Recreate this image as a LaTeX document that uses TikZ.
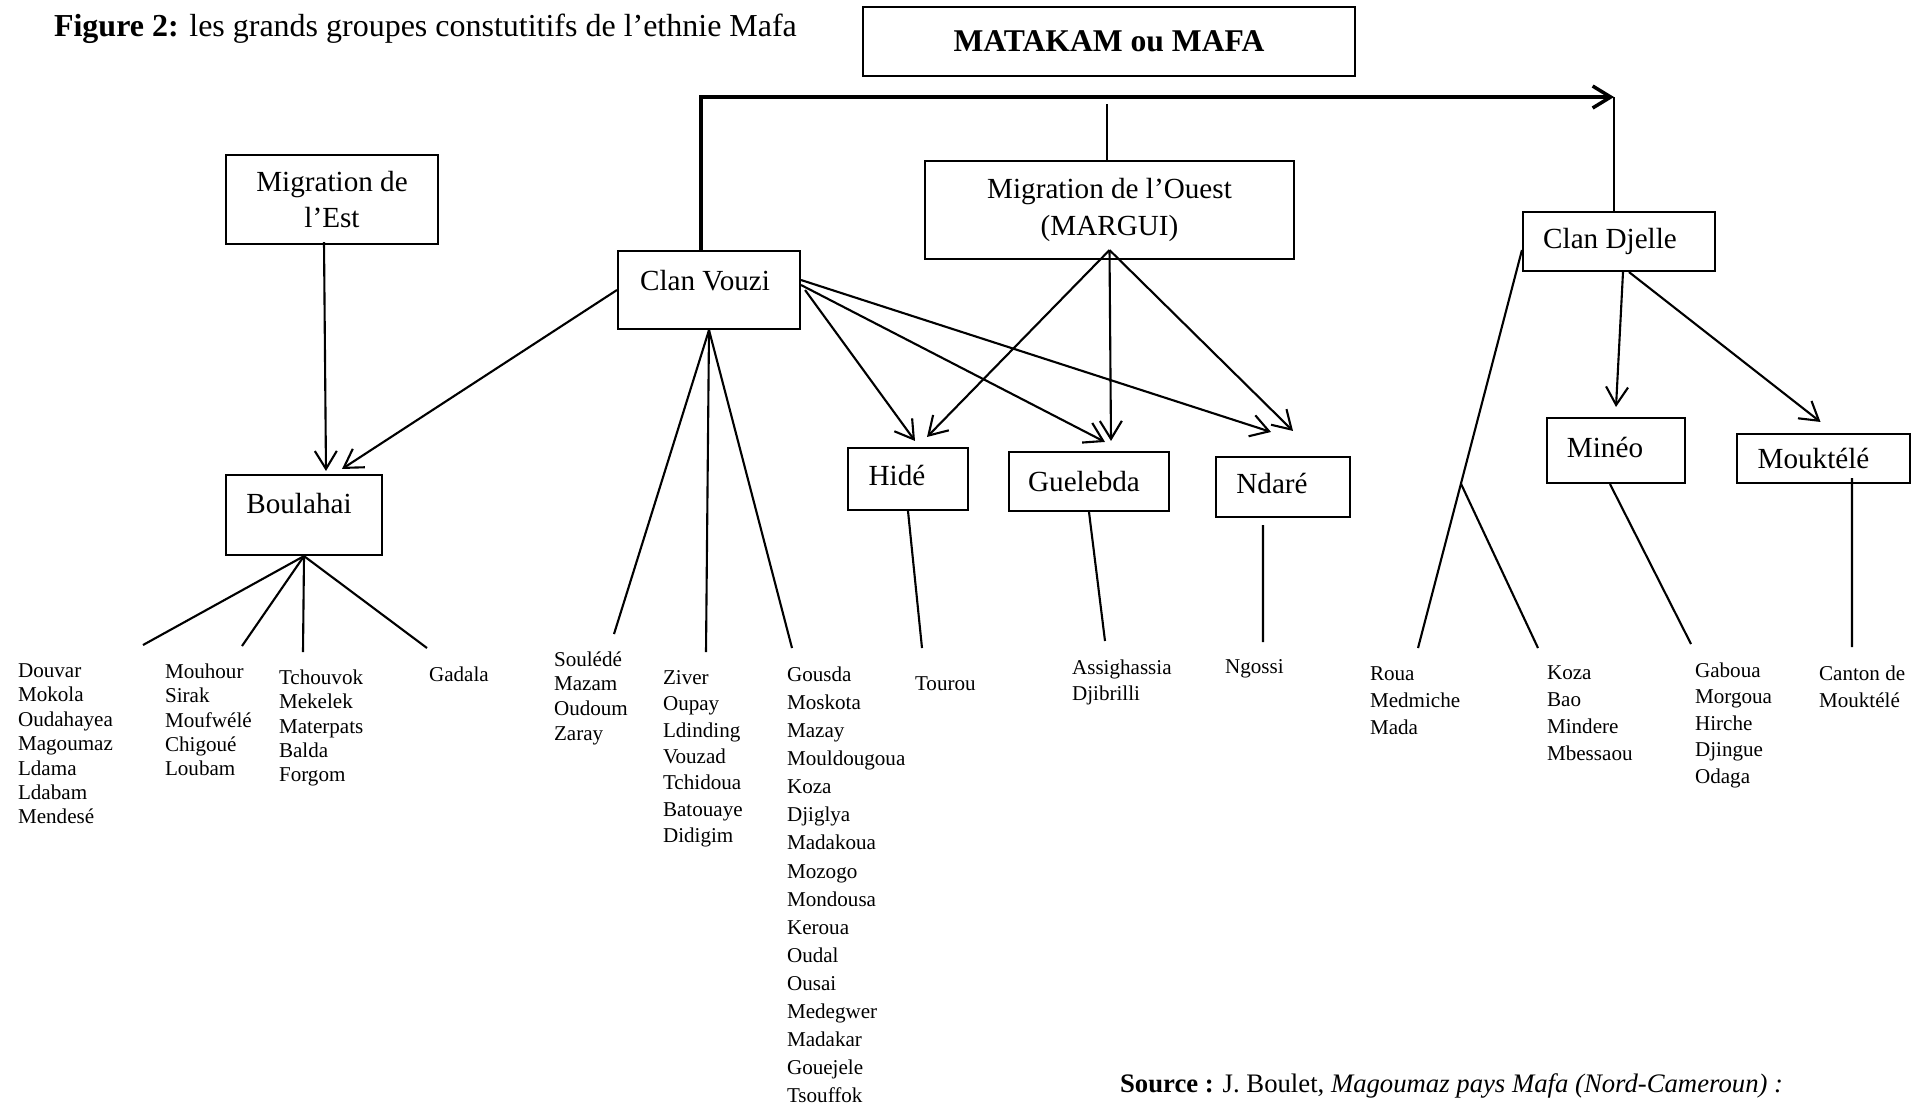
\documentclass[tikz,border=0pt]{standalone}
\usepackage{fontspec}
\setmainfont{Liberation Serif}
\usetikzlibrary{arrows.meta}

\begin{document}
\begin{tikzpicture}[x=0.1mm,y=-0.1mm,line width=0.6pt,
    >={Straight Barb[length=1.8mm,width=2.2mm]},
    groupe/.style={draw=black,inner sep=0pt,align=center,font=\fontsize{8.3}{10.3}\selectfont},
    gauche/.style={execute at end node=\hspace*{#1}},
    liste/.style={anchor=north west,inner sep=0pt,align=left,font=\fontsize{6}{#1}\selectfont},
    liste/.default=7pt]
      \useasboundingbox (0,0) rectangle (1924,1106);

      \node[anchor=base west,inner sep=0pt,font=\fontsize{9.1}{11}\selectfont](Titre) at (53,36) {\textbf{Figure 2:} les grands groupes constutitifs de l’ethnie Mafa};

      \node[groupe,font=\fontsize{9}{11}\selectfont\bfseries,minimum width=49.2mm,minimum height=6.9mm](Mafa) at (1109,41.5) {MATAKAM ou MAFA};
      \node[groupe,minimum width=21.2mm,minimum height=8.9mm](Est) at (332,199.5) {Migration de\\l’Est};
      \node[groupe,minimum width=36.9mm,minimum height=9.8mm](Ouest) at (1109.5,210) {Migration de l’Ouest\\(MARGUI)};
      \node[groupe,gauche=0.8mm,minimum width=18.2mm,minimum height=7.8mm,text height=2mm,text depth=2mm](Vouzi) at (709,290) {Clan Vouzi};
      \node[groupe,gauche=1.8mm,minimum width=19.2mm,minimum height=5.9mm](Djelle) at (1619,241.5) {Clan Djelle};
      \node[groupe,gauche=1mm,minimum width=15.6mm,minimum height=8mm,text height=2mm,text depth=2.4mm](Boul) at (304,515) {Boulahai};
      \node[groupe,gauche=2.2mm,minimum width=12mm,minimum height=6.2mm,text height=2mm,text depth=0.7mm](Hide) at (908,479) {Hidé};
      \node[groupe,gauche=1mm,minimum width=16mm,minimum height=5.9mm](Gue) at (1089,481.5) {Guelebda};
      \node[groupe,gauche=2.2mm,minimum width=13.4mm,minimum height=6mm,text height=2mm,text depth=0.8mm](Nda) at (1283,487) {Ndaré};
      \node[groupe,gauche=2.2mm,minimum width=13.8mm,minimum height=6.5mm,text height=2mm,text depth=0.7mm](Mineo) at (1616,450.5) {Minéo};
      \node[groupe,gauche=2mm,minimum width=17.3mm,minimum height=4.9mm](Mouk) at (1823.5,458.5) {Mouktélé};

      % listes des villages
      \node[liste=6.95pt](Douvar) at (17,662.5) {Douvar\\Mokola\\Oudahayea\\Magoumaz\\Ldama\\Ldabam\\Mendesé};
      \node[liste=6.95pt](Mouhour) at (164,662.5) {Mouhour\\Sirak\\Moufwélé\\Chigoué\\Loubam};
      \node[liste=6.95pt](Tchouvok) at (278,668.5) {Tchouvok\\Mekelek\\Materpats\\Balda\\Forgom};
      \node[liste](Gadala) at (428,665.5) {Gadala};
      \node[liste=7pt](Soulede) at (553,650.5) {Soulédé\\Mazam\\Oudoum\\Zaray};
      \node[liste=7.5pt](Ziver) at (662,669.5) {Ziver\\Oupay\\Ldinding\\Vouzad\\Tchidoua\\Batouaye\\Didigim};
      \node[liste=8pt](Gousda) at (786,665.5) {Gousda\\Moskota\\Mazay\\Mouldougoua\\Koza\\Djiglya\\Madakoua\\Mozogo\\Mondousa\\Keroua\\Oudal\\Ousai\\Medegwer\\Madakar\\Gouejele\\Tsouffok};
      \node[liste](Tourou) at (914,675.5) {Tourou};
      \node[liste=7.6pt](Assig) at (1071,658.5) {Assighassia\\Djibrilli};
      \node[liste](Ngossi) at (1224,658.5) {Ngossi};
      \node[liste=7.7pt](Roua) at (1369,665.5) {Roua\\Medmiche\\Mada};
      \node[liste=7.7pt](Koza) at (1546,664.5) {Koza\\Bao\\Mindere\\Mbessaou};
      \node[liste=7.55pt](Gaboua) at (1694,661.5) {Gaboua\\Morgoua\\Hirche\\Djingue\\Odaga};
      \node[liste=7.7pt](Canton) at (1818,664.5) {Canton de\\Mouktélé};

      \node[anchor=base west,inner sep=0pt,font=\fontsize{7.6}{9}\selectfont](Source) at (1119,1092) {\textbf{Source :} J. Boulet, \textit{Magoumaz pays Mafa (Nord-Cameroun) :}};

      % bouts libres des traits
      \coordinate (cDouvar) at (143,645);
      \coordinate (cMouhour) at (242,646);
      \coordinate (cTchouvok) at (303,652);
      \coordinate (cGadala) at (427,648);
      \coordinate (cSoulede) at (614,634);
      \coordinate (cZiver) at (706,652);
      \coordinate (cGousda) at (792,648);
      \coordinate (cTourou) at (922,648);
      \coordinate (cAssig) at (1105,641);
      \coordinate (cNgossi) at (1263,642);
      \coordinate (cRoua) at (1418,648);
      \coordinate (cKoza) at (1538,648);
      \coordinate (cGaboua) at (1691,644);
      \coordinate (cCanton) at (1852,647);
      \coordinate (T) at (1614,97);
      \coordinate (M) at (1107,104);

      \draw[->,line width=1pt] ([xshift=-0.8mm]Vouzi.north) |- (T);
      \draw (T) -- (T |- Djelle.north);
      \draw (M) -- (M |- Ouest.north);

      \path [->] ([xshift=-0.8mm,yshift=0.3mm]Est.south) edge ([xshift=2.2mm,yshift=0.3mm]Boul.north);
      \path [->] (Vouzi.west) edge ([xshift=3.8mm,yshift=0.5mm]Boul.north);
      \path [->] ([xshift=0.4mm]Vouzi.east) edge ([xshift=0.7mm,yshift=0.6mm]Hide.north);
      \path [->] ([yshift=0.5mm]Vouzi.east) edge ([xshift=1.6mm,yshift=0.9mm]Gue.north);
      \path [->] ([yshift=1mm]Vouzi.east) edge ([xshift=-1.2mm,yshift=2.4mm]Nda.north);
      \path [->] ([yshift=1mm]Ouest.south) edge ([xshift=1.9mm,yshift=1mm]Hide.north);
      \path [->] ([yshift=1mm]Ouest.south) edge ([xshift=2.2mm,yshift=1mm]Gue.north);
      \path [->] ([yshift=1mm]Ouest.south) edge ([xshift=1mm,yshift=2.5mm]Nda.north);
      \path [->] ([xshift=0.4mm]Djelle.south) edge ([yshift=1mm]Mineo.north);
      \path [->] ([xshift=1mm]Djelle.south) edge ([xshift=-0.3mm,yshift=1.1mm]Mouk.north);

      \path (Boul.south) edge (cDouvar) edge (cMouhour) edge (cTchouvok) edge (cGadala);
      \path (Vouzi.south) edge (cSoulede) edge (cZiver) edge (cGousda);
      \path (Hide.south) edge (cTourou);
      \path (Gue.south) edge (cAssig);
      \path ([xshift=-2mm,yshift=-0.7mm]Nda.south) edge (cNgossi);
      \draw ([yshift=-0.85mm]Djelle.west) -- coordinate[pos=0.587] (br) (cRoua);
      \path (br) edge (cKoza);
      \path ([xshift=-0.6mm]Mineo.south) edge (cGaboua);
      \path ([xshift=2.85mm,yshift=0.6mm]Mouk.south) edge (cCanton);
    \end{tikzpicture}
\end{document}
